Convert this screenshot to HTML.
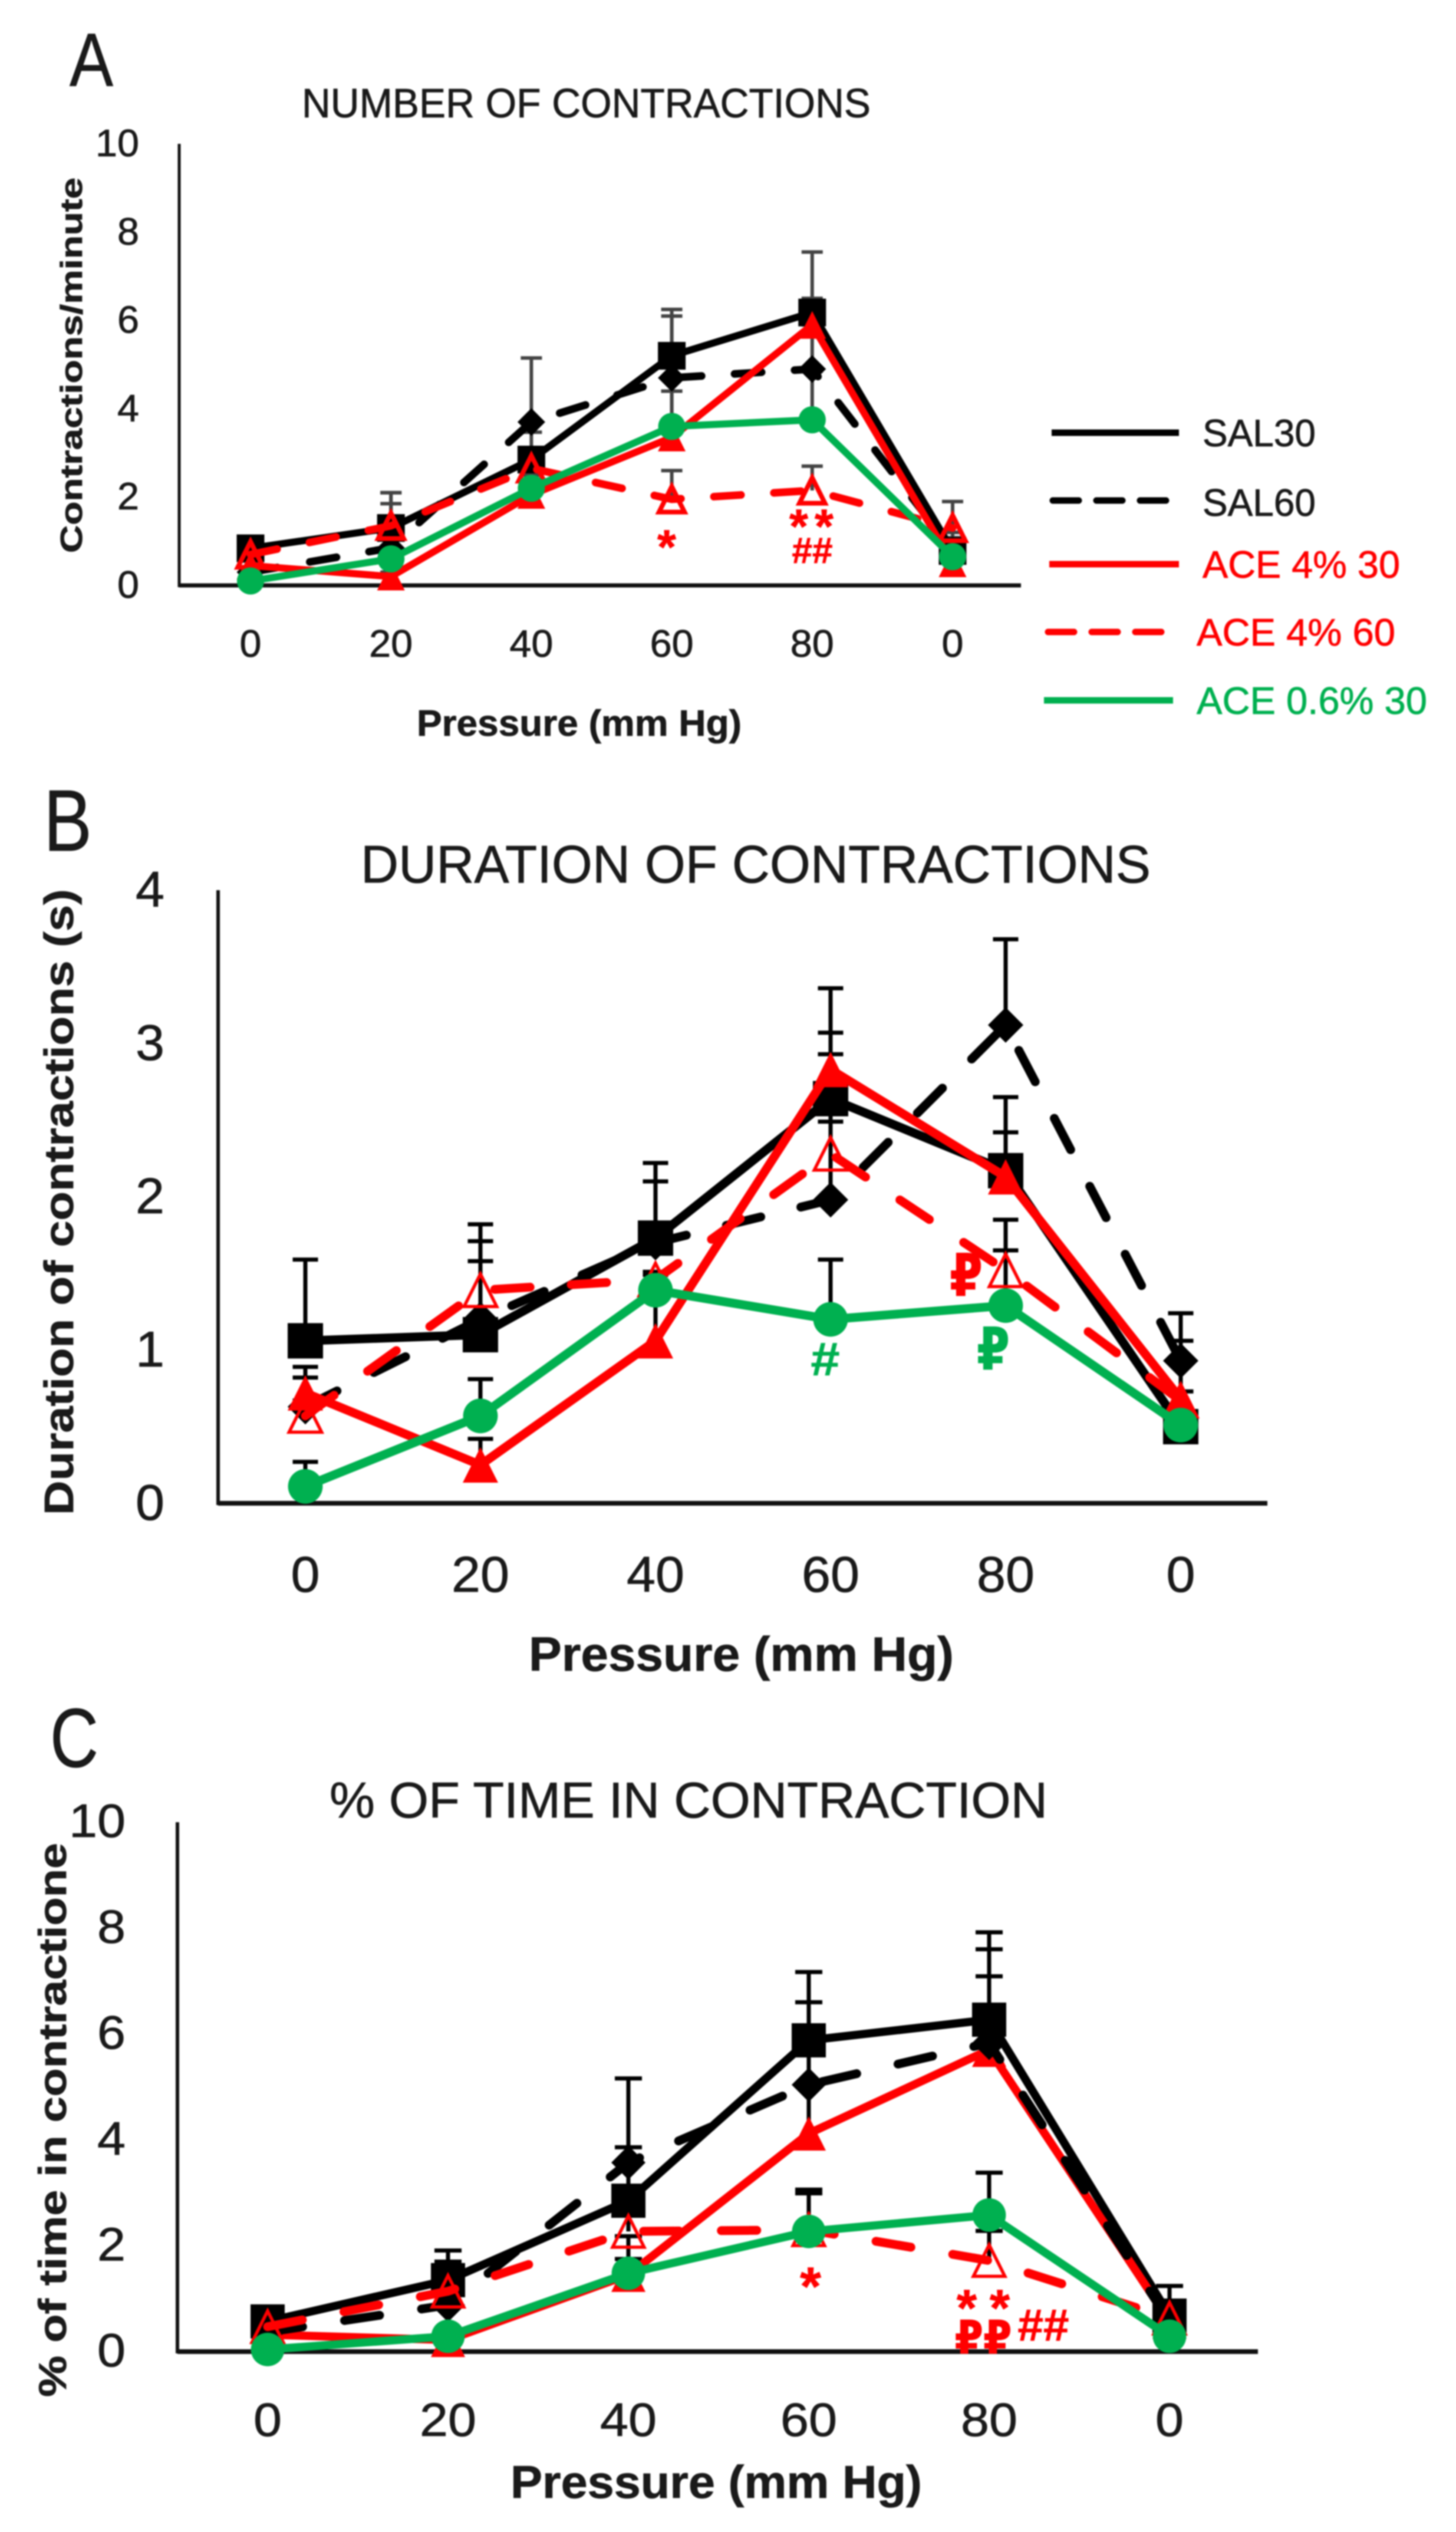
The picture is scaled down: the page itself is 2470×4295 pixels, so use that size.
<!DOCTYPE html>
<html lang="en">
<head>
<meta charset="utf-8">
<title>Contraction charts</title>
<style>
html,body{margin:0;padding:0;background:#fff;}
#figure{display:block;width:2470px;height:4295px;filter:blur(1.2px);}
text{font-family:"Liberation Sans","DejaVu Sans",sans-serif;fill:#1a1a1a;stroke:#1a1a1a;stroke-width:0.8px;}
.bold{font-weight:bold;}
.red{fill:#ff0000;stroke:#ff0000;}
.green{fill:#00b050;stroke:#00b050;}
</style>
</head>
<body>
<svg id="figure" xmlns="http://www.w3.org/2000/svg" width="2470" height="4295" viewBox="0 0 2470 4295">
  <rect width="2470" height="4295" fill="#fff"/>

  <g id="panel-a">
    <text x="118" y="146" font-size="128" textLength="74" lengthAdjust="spacingAndGlyphs">A</text>
    <text x="512" y="199" font-size="70" textLength="965" lengthAdjust="spacingAndGlyphs">NUMBER OF CONTRACTIONS</text>
    <text class="bold" transform="translate(139,938) rotate(-90)" font-size="52" textLength="637" lengthAdjust="spacingAndGlyphs">Contractions/minute</text>
    <text class="bold" x="707" y="1248" font-size="62" textLength="551" lengthAdjust="spacingAndGlyphs">Pressure (mm Hg)</text>
  </g>

  <g id="panel-b">
    <text x="74" y="1443" font-size="148" textLength="82" lengthAdjust="spacingAndGlyphs">B</text>
    <text x="612" y="1497" font-size="90" textLength="1340" lengthAdjust="spacingAndGlyphs">DURATION OF CONTRACTIONS</text>
    <text class="bold" transform="translate(124,2570) rotate(-90)" font-size="70" textLength="1062" lengthAdjust="spacingAndGlyphs">Duration of contractions (s)</text>
    <text class="bold" x="897" y="2834" font-size="82" textLength="721" lengthAdjust="spacingAndGlyphs">Pressure (mm Hg)</text>
  </g>

  <g id="panel-c">
    <text x="85" y="2997" font-size="142" textLength="82" lengthAdjust="spacingAndGlyphs">C</text>
    <text x="559" y="3083" font-size="85" textLength="1218" lengthAdjust="spacingAndGlyphs">% OF TIME IN CONTRACTION</text>
    <text class="bold" transform="translate(112,4066) rotate(-90)" font-size="66" textLength="940" lengthAdjust="spacingAndGlyphs">% of time in contractione</text>
    <text class="bold" x="866" y="4237" font-size="78" textLength="698" lengthAdjust="spacingAndGlyphs">Pressure (mm Hg)</text>
  </g>

  <g id="annotations"></g>

  <g id="legend">
    <g>
      <line x1="1784" y1="734" x2="2000" y2="734" stroke="#000" stroke-width="11"/>
      <text x="2040" y="757" font-size="65" textLength="192" lengthAdjust="spacingAndGlyphs">SAL30</text>
    </g>
    <g>
      <line x1="1786" y1="849" x2="2004" y2="849" stroke="#000" stroke-width="11" stroke-dasharray="44 30" stroke-linecap="round"/>
      <text x="2040" y="875" font-size="65" textLength="192" lengthAdjust="spacingAndGlyphs">SAL60</text>
    </g>
    <g>
      <line x1="1780" y1="957" x2="2000" y2="957" stroke="#f00" stroke-width="11"/>
      <text class="red" x="2040" y="980" font-size="65" textLength="335" lengthAdjust="spacingAndGlyphs">ACE 4% 30</text>
    </g>
    <g>
      <line x1="1778" y1="1072" x2="1998" y2="1072" stroke="#f00" stroke-width="11" stroke-dasharray="44 30" stroke-linecap="round"/>
      <text class="red" x="2030" y="1095" font-size="65" textLength="337" lengthAdjust="spacingAndGlyphs">ACE 4% 60</text>
    </g>
    <g>
      <line x1="1771" y1="1188" x2="1990" y2="1188" stroke="#00b050" stroke-width="11"/>
      <text class="green" x="2030" y="1211" font-size="65" textLength="391" lengthAdjust="spacingAndGlyphs">ACE 0.6% 30</text>
    </g>
  </g>
</svg>

<script>
// Shared categories
const pressureCategories = ['0', '20', '40', '60', '80', '0'];

// Panel A: number of contractions
const panelAYTicks = [0, 2, 4, 6, 8, 10];
const panelASal30 = [0.84, 1.3, 2.85, 5.2, 6.18, 0.78];
const panelASal60 = [0.3, 0.85, 3.7, 4.7, 4.9, 0.8];
const panelAAce430 = [0.45, 0.2, 2.05, 3.35, 5.9, 0.5];
const panelAAce460 = [0.7, 1.35, 2.65, 1.95, 2.15, 1.3];
const panelAAce0630 = [0.1, 0.6, 2.2, 3.6, 3.75, 0.65];
const panelASal30Err = [0.25, 0.55, 0.62, 0.9, 1.37, 0.3];
const panelASal60Err = [0.3, 1.25, 1.45, 1.55, 1.0, 0.4];
const panelAAce430Err = [0.1, 0.1, 0.3, 1.05, 0.6, 0.3];
const panelAAce460Err = [0.2, 0.75, 0.3, 0.65, 0.55, 0.6];
const panelAAce0630Err = [0.1, 0.2, 0.3, 0.8, 1.1, 0.2];

// Panel B: duration of contractions
const panelBYTicks = [0, 1, 2, 3, 4];
const panelBSal30 = [1.06, 1.1, 1.73, 2.64, 2.17, 0.5];
const panelBSal60 = [0.63, 1.2, 1.7, 1.98, 3.12, 0.93];
const panelBAce430 = [0.72, 0.25, 1.06, 2.83, 2.13, 0.68];
const panelBAce460 = [0.57, 1.39, 1.46, 2.28, 1.52, 0.67];
const panelBAce0630 = [0.11, 0.57, 1.39, 1.2, 1.29, 0.51];
const panelBSal30Err = [0.53, 0.61, 0.49, 0.43, 0.48, 0.56];
const panelBSal60Err = [0.26, 0.62, 0.4, 0.51, 0.56, 0.31];
const panelBAce430Err = [0.1, 0.17, 0.35, 0.53, 0.29, 0.05];
const panelBAce460Err = [0.1, 0.19, 0.05, 0.65, 0.33, 0.25];
const panelBAce0630Err = [0.16, 0.24, 0.1, 0.39, 0.36, 0.05];

// Panel C: percent of time in contraction
const panelCYTicks = [0, 2, 4, 6, 8, 10];
const panelCSal30 = [0.57, 1.35, 2.85, 5.88, 6.27, 0.68];
const panelCSal60 = [0.37, 0.88, 3.57, 5.04, 5.83, 0.57];
const panelCAce430 = [0.32, 0.22, 1.45, 4.12, 5.7, 0.57];
const panelCAce460 = [0.47, 1.14, 2.27, 2.3, 1.72, 0.63];
const panelCAce0630 = [0.04, 0.29, 1.48, 2.27, 2.58, 0.29];
const panelCSal30Err = [0.1, 0.56, 1.01, 1.29, 1.65, 0.56];
const panelCSal60Err = [0.1, 0.82, 1.59, 1.56, 1.77, 0.2];
const panelCAce430Err = [0.05, 0.05, 0.3, 0.9, 1.39, 0.1];
const panelCAce460Err = [0.1, 0.3, 0.3, 0.76, 0.56, 0.1];
const panelCAce0630Err = [0.05, 0.05, 0.7, 0.72, 0.8, 0.05];

const SVGNS = 'http://www.w3.org/2000/svg';

function make(tag, attrs, parent) {
  const el = document.createElementNS(SVGNS, tag);
  for (const k in attrs) el.setAttribute(k, attrs[k]);
  parent.appendChild(el);
  return el;
}

function buildPanel(cfg) {
  const root = document.getElementById(cfg.id);
  const xAt = i => cfg.x0 + i * cfg.xStep;
  const yAt = v => cfg.y0 - (v / cfg.yMax) * (cfg.y0 - cfg.yTop);

  // Tick labels
  cfg.yTicks.forEach(t => {
    const lab = make('text', {
      x: cfg.yLabelRight, y: yAt(t) + cfg.yLabelDy, 'font-size': cfg.tickFont, 'text-anchor': 'end',
      textLength: String(t).length * cfg.digitW, lengthAdjust: 'spacingAndGlyphs'
    }, root);
    lab.textContent = t;
    
    
  });
  pressureCategories.forEach((c, i) => {
    const w = c.length * cfg.digitW;
    const lab = make('text', {
      x: xAt(i) - w / 2, y: cfg.xLabelY, 'font-size': cfg.tickFont,
      textLength: w, lengthAdjust: 'spacingAndGlyphs'
    }, root);
    lab.textContent = c;
    
    
  });

  // Axes
  const yAxis = make('line', { x1: cfg.axisX, y1: cfg.yTop, x2: cfg.axisX, y2: cfg.y0 + 3, stroke: '#111', 'stroke-width': cfg.yAxisW }, root);
  
  
  const xAxis = make('line', { x1: cfg.axisX, y1: cfg.y0, x2: cfg.axisEnd, y2: cfg.y0, stroke: '#111', 'stroke-width': cfg.xAxisW }, root);
  
  

  // Error bars below the lines
  cfg.series.forEach(s => {
    s.values.forEach((v, i) => {
      const e = s.err[i];
      if (!e) return;
      const g = make('g', { stroke: cfg.errColor, 'stroke-width': cfg.errW, fill: 'none' }, root);
      
      
      make('line', { x1: xAt(i), y1: yAt(v), x2: xAt(i), y2: yAt(v + e) }, g);
      make('line', { x1: xAt(i) - cfg.capW / 2, y1: yAt(v + e), x2: xAt(i) + cfg.capW / 2, y2: yAt(v + e) }, g);
    });
  });

  // Lines and markers
  cfg.series.forEach(s => {
    const g = make('g', {}, root);
    
    
    const pts = s.values.map((v, i) => xAt(i) + ',' + yAt(v)).join(' ');
    const attrs = { points: pts, fill: 'none', stroke: s.color, 'stroke-width': s.dashed ? cfg.dashW : cfg.lineW, 'stroke-linejoin': 'round' };
    if (s.dashed) {
      attrs['stroke-dasharray'] = cfg.dash;
      attrs['stroke-linecap'] = 'round';
    }
    const line = make('polyline', attrs, g);
    
    
    s.values.forEach((v, i) => {
      const x = xAt(i), y = yAt(v), m = cfg.marker;
      let el;
      if (s.shape === 'square') {
        el = make('rect', { x: x - m / 2, y: y - m / 2, width: m, height: m, fill: s.color }, g);
      } else if (s.shape === 'diamond') {
        const d = m * 0.5;
        el = make('polygon', { points: [x, y - d, x + d, y, x, y + d, x - d, y].join(','), fill: s.color }, g);
      } else if (s.shape === 'circle') {
        el = make('circle', { cx: x, cy: y, r: m * 0.49, fill: s.color }, g);
      } else if (s.shape === 'triangle') {
        const d = m * 0.5;
        el = make('polygon', { points: [x, y - d, x + d, y + d, x - d, y + d].join(','), fill: s.color }, g);
      } else {
        const d = m * 0.46;
        el = make('polygon', { points: [x, y - d, x + d, y + d, x - d, y + d].join(','), fill: 'none', stroke: s.color, 'stroke-width': cfg.openW }, g);
      }
      
      
    });
  });
}

function seriesSet(a, b, c, d, e, aE, bE, cE, dE, eE) {
  return [
    { key: 'sal30', color: '#000', shape: 'square', values: a, err: aE },
    { key: 'sal60', color: '#000', shape: 'diamond', dashed: true, values: b, err: bE },
    { key: 'ace-4-30', color: '#f00', shape: 'triangle', values: c, err: cE },
    { key: 'ace-4-60', color: '#f00', shape: 'open', dashed: true, values: d, err: dE },
    { key: 'ace-0-6-30', color: '#00b050', shape: 'circle', values: e, err: eE }
  ];
}

buildPanel({
  id: 'panel-a', x0: 425, xStep: 238.2, y0: 993, yTop: 244, yMax: 10, axisX: 304, axisEnd: 1732,
  yTicks: panelAYTicks, yLabelRight: 236, yLabelDy: 21, tickFont: 65, digitW: 37, xLabelY: 1114,
  errColor: '#444', errW: 6, capW: 36, lineW: 12, dashW: 13, dash: '46 56', marker: 47, openW: 8, yAxisW: 5, xAxisW: 7,
  series: seriesSet(panelASal30, panelASal60, panelAAce430, panelAAce460, panelAAce0630,
    panelASal30Err, panelASal60Err, panelAAce430Err, panelAAce460Err, panelAAce0630Err)
});

buildPanel({
  id: 'panel-b', x0: 518, xStep: 297, y0: 2550, yTop: 1510, yMax: 4, axisX: 370, axisEnd: 2150,
  yTicks: panelBYTicks, yLabelRight: 279, yLabelDy: 28, tickFont: 85, digitW: 49, xLabelY: 2700,
  errColor: '#000', errW: 7, capW: 43, lineW: 15, dashW: 15, dash: '60 70', marker: 60, openW: 5.5, yAxisW: 6, xAxisW: 8,
  series: seriesSet(panelBSal30, panelBSal60, panelBAce430, panelBAce460, panelBAce0630,
    panelBSal30Err, panelBSal60Err, panelBAce430Err, panelBAce460Err, panelBAce0630Err)
});

const panelCSeries = seriesSet(panelCSal30, panelCSal60, panelCAce430, panelCAce460, panelCAce0630,
  panelCSal30Err, panelCSal60Err, panelCAce430Err, panelCAce460Err, panelCAce0630Err);

buildPanel({
  id: 'panel-c', x0: 454, xStep: 306, y0: 3989, yTop: 3091, yMax: 10, axisX: 301, axisEnd: 2134,
  yTicks: panelCYTicks, yLabelRight: 213, yLabelDy: 25, tickFont: 80, digitW: 48, xLabelY: 4132,
  errColor: '#000', errW: 7, capW: 46, lineW: 14, dashW: 15, dash: '60 72', marker: 58, openW: 5.5, yAxisW: 6, xAxisW: 8,
  // In this panel the solid red line sits under the dashed black one
  series: [panelCSeries[0], panelCSeries[2], panelCSeries[1], panelCSeries[3], panelCSeries[4]]
});
</script>

<script>
// Significance marks, written after the panels so they sit on top
(function () {
  const host = document.getElementById('annotations');
  const marks = document.createDocumentFragment();
  function add(txt, x, y, size, cls, width) {
    const t = document.createElementNS('http://www.w3.org/2000/svg', 'text');
    t.setAttribute('x', x);
    t.setAttribute('y', y);
    t.setAttribute('font-size', size);
    t.setAttribute('class', 'bold ' + cls);
    t.setAttribute('text-anchor', 'middle');
    if (width) {
      t.setAttribute('textLength', width);
      t.setAttribute('lengthAdjust', 'spacingAndGlyphs');
    }
    
    
    t.textContent = txt;
    marks.appendChild(t);
  }
  add('*', 1131, 956, 82, 'red');
  add('*', 1355, 921, 82, 'red');
  add('*', 1398, 921, 82, 'red');
  add('##', 1378, 955, 62, 'red', 69);
  add('\u20BD', 1639, 2198, 100, 'red', 56);
  add('\u20BD', 1685, 2323, 100, 'green', 56);
  add('#', 1400, 2333, 80, 'green', 49);
  add('*', 1375, 3910, 92, 'red');
  add('*', 1640, 3945, 88, 'red');
  add('*', 1696, 3945, 88, 'red');
  add('\u20BD\u20BD', 1668, 3992, 78, 'red', 97);
  add('##', 1770, 3970, 76, 'red', 87);
  host.appendChild(marks);
})();
</script>
</body>
</html>
